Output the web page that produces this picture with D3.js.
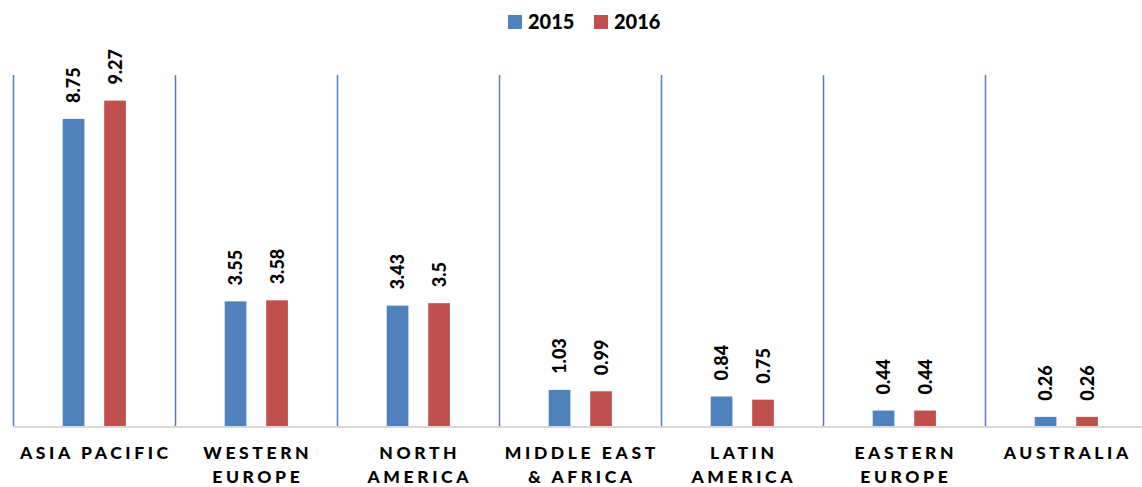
<!DOCTYPE html>
<html><head><meta charset="utf-8">
<script src="https://cdn.jsdelivr.net/npm/d3@7"></script>
<style>body{margin:0;background:#fff}svg{display:block}</style>
</head><body>
<svg id="c" width="1142" height="487"></svg>
<script>
const categories = [["ASIA PACIFIC"],["WESTERN","EUROPE"],["NORTH","AMERICA"],["MIDDLE EAST","& AFRICA"],["LATIN","AMERICA"],["EASTERN","EUROPE"],["AUSTRALIA"]];
const seriesNames = ["2015","2016"];
const values2015 = [8.75,3.55,3.43,1.03,0.84,0.44,0.26];
const values2016 = [9.27,3.58,3.5,0.99,0.75,0.44,0.26];
const labels2015 = ["8.75","3.55","3.43","1.03","0.84","0.44","0.26"];
const labels2016 = ["9.27","3.58","3.5","0.99","0.75","0.44","0.26"];
const colors = ["#4F81BD","#C0504D"];

(function(){
const svg = d3.select("#c");
const font = "Lato, 'Liberation Sans', sans-serif";
const pl = 13, pr = 1147, pt = 75, pb = 426;
const keys = categories.map((d,i)=>i);
const x = d3.scaleBand().domain(keys).range([pl,pr]).padding(0);
const y = d3.scaleLinear().domain([0,10]).range([pb,pt]);
const bw = 21.7, gap = 19.8;

svg.append("g").selectAll("line").data(keys.concat([keys.length])).join("line")
  .attr("x1", d=>pl + d*x.bandwidth()+0.5).attr("x2", d=>pl + d*x.bandwidth()+0.5)
  .attr("y1", y(10)).attr("y2", y(0))
  .attr("stroke","#4F81BD").attr("stroke-width",1.5);

svg.append("line").attr("x1",pl).attr("x2",pr).attr("y1",y(0)+1).attr("y2",y(0)+1)
  .attr("stroke","#D9D9D9").attr("stroke-width",2);

const series = [values2015, values2016];
const slabels = [labels2015, labels2016];
series.forEach((vals, s) => {
  const off = s===0 ? -(gap/2 + bw) : gap/2;
  const g = svg.append("g");
  g.selectAll("rect").data(vals).join("rect")
    .attr("x",(d,i)=>x(i)+x.bandwidth()/2+off+0.3)
    .attr("width",bw).attr("y",d=>y(d)).attr("height",d=>y(0)-y(d))
    .attr("fill",colors[s]);
  g.selectAll("text").data(vals).join("text")
    .attr("transform",(d,i)=>`translate(${x(i)+x.bandwidth()/2+off+bw/2+0.5},${y(d)-16}) rotate(-90)`)
    .attr("dy","0.36em")
    .attr("font-family",font).attr("font-weight","900").attr("font-size",18)
    .attr("fill","#000")
    .text((d,i)=>slabels[s][i]);
});

const cl = svg.append("g");
categories.forEach((lines,i)=>{
  const t = cl.append("text").attr("text-anchor","middle")
    .attr("font-family",font).attr("font-weight","900").attr("font-size",17.5)
    .attr("letter-spacing","3.6px").attr("fill","#000");
  lines.forEach((ln,j)=>{
    t.append("tspan").attr("x",x(i)+x.bandwidth()/2+1.8).attr("y",459+j*24).text(ln);
  });
});

const lg = svg.append("g");
const lx = [508, 594];
seriesNames.forEach((n,s)=>{
  lg.append("rect").attr("x",lx[s]).attr("y",15).attr("width",14).attr("height",14).attr("fill",colors[s]);
  lg.append("text").attr("x",lx[s]+20).attr("y",29).attr("font-family",font).attr("font-weight","900")
    .attr("font-size",20).attr("fill","#000").text(n);
});
})();
</script>
</body></html>
